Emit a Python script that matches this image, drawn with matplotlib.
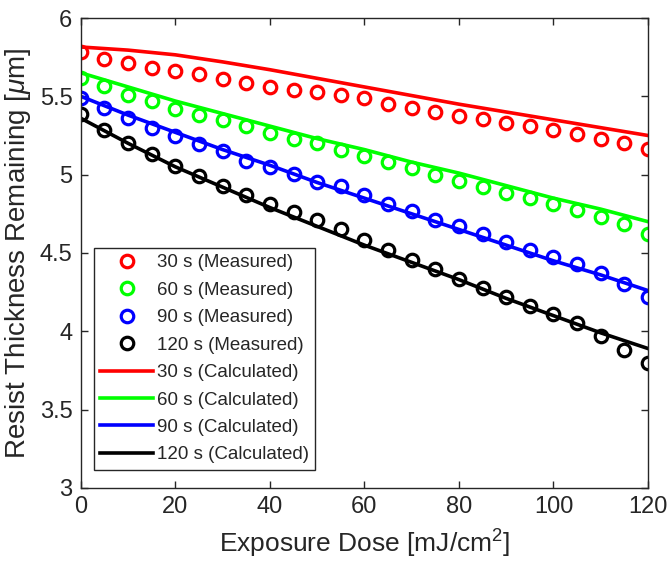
import matplotlib
matplotlib.use("Agg")
import matplotlib.pyplot as plt
from matplotlib.ticker import FuncFormatter

# Exposure dose for measured points
dose_meas = [0, 5, 10, 15, 20, 25, 30, 35, 40, 45, 50, 55, 60,
             65, 70, 75, 80, 85, 90, 95, 100, 105, 110, 115, 120]

meas_30 = [5.78, 5.74, 5.71, 5.68, 5.66, 5.64, 5.61, 5.585, 5.56, 5.54, 5.525, 5.51, 5.49,
           5.45, 5.425, 5.40, 5.375, 5.355, 5.33, 5.31, 5.285, 5.26, 5.23, 5.205, 5.165]
meas_60 = [5.62, 5.565, 5.51, 5.47, 5.42, 5.38, 5.35, 5.31, 5.265, 5.23, 5.20, 5.16, 5.12,
           5.08, 5.04, 5.00, 4.96, 4.92, 4.885, 4.85, 4.81, 4.775, 4.73, 4.685, 4.62]
meas_90 = [5.49, 5.425, 5.36, 5.30, 5.245, 5.195, 5.15, 5.09, 5.05, 5.005, 4.955, 4.925, 4.87,
           4.81, 4.765, 4.71, 4.67, 4.62, 4.57, 4.52, 4.475, 4.43, 4.37, 4.30, 4.22]
meas_120 = [5.39, 5.285, 5.205, 5.13, 5.055, 4.99, 4.93, 4.87, 4.815, 4.76, 4.71, 4.65, 4.585,
            4.52, 4.455, 4.395, 4.335, 4.275, 4.22, 4.16, 4.11, 4.05, 3.97, 3.88, 3.80]

# Calculated curves
dose_calc = [0, 10, 20, 30, 40, 50, 60, 70, 80, 90, 100, 110, 120]
calc_30 = [5.815, 5.795, 5.765, 5.72, 5.67, 5.615, 5.56, 5.505, 5.45, 5.40, 5.35, 5.30, 5.25]
calc_60 = [5.65, 5.56, 5.47, 5.39, 5.31, 5.23, 5.16, 5.08, 5.01, 4.93, 4.85, 4.78, 4.70]
calc_90 = [5.50, 5.38, 5.27, 5.16, 5.06, 4.95, 4.85, 4.75, 4.65, 4.55, 4.45, 4.36, 4.26]
calc_120 = [5.36, 5.20, 5.05, 4.92, 4.79, 4.67, 4.55, 4.44, 4.33, 4.21, 4.10, 3.99, 3.89]

times = ["30 s", "60 s", "90 s", "120 s"]
colors = ["#ff0000", "#00ff00", "#0000ff", "#000000"]

plt.rcParams["font.family"] = ["Liberation Sans", "DejaVu Sans"]
plt.rcParams["mathtext.fontset"] = "custom"
plt.rcParams["mathtext.rm"] = "Liberation Sans"
plt.rcParams["mathtext.it"] = "Liberation Sans:italic"

axc = "#262626"
fig = plt.figure(figsize=(6.68, 5.72), dpi=100)
ax = fig.add_axes([0.121, 0.147, 0.849, 0.8215])

for t, c, m in zip(times, colors, [meas_30, meas_60, meas_90, meas_120]):
    ax.plot(dose_meas, m, "o", mfc="none", mec=c, mew=2.3, ms=9,
            label=t + " (Measured)")
for t, c, v in zip(times, colors, [calc_30, calc_60, calc_90, calc_120]):
    ax.plot(dose_calc, v, "-", color=c, lw=2.6, label=t + " (Calculated)")

ax.set_xlim(0, 120)
ax.set_ylim(3, 6)
ax.set_xticks(range(0, 121, 20))
ax.set_yticks([3, 3.5, 4, 4.5, 5, 5.5, 6])
ax.yaxis.set_major_formatter(FuncFormatter(lambda v, p: "%g" % v))
ax.tick_params(direction="in", top=True, right=True, length=5, width=1,
               colors=axc, labelsize=17, pad=6)
for s in ax.spines.values():
    s.set_color(axc)
    s.set_linewidth(1)

ax.set_xlabel("Exposure Dose [mJ/cm$^2$]", fontsize=19, color=axc, labelpad=7)
ax.set_ylabel("Resist Thickness Remaining [$\\mu$m]", fontsize=20, color=axc, labelpad=5)

leg = ax.legend(loc="lower left", bbox_to_anchor=(0.023, 0.038), fontsize=13.5,
                frameon=True, fancybox=False, edgecolor=axc, framealpha=1,
                handlelength=2.8, handletextpad=0.2, labelspacing=0.55,
                borderpad=0.35, borderaxespad=0)
leg.get_frame().set_linewidth(1)
for txt in leg.get_texts():
    txt.set_color(axc)

fig.savefig("out.png", dpi=100)
